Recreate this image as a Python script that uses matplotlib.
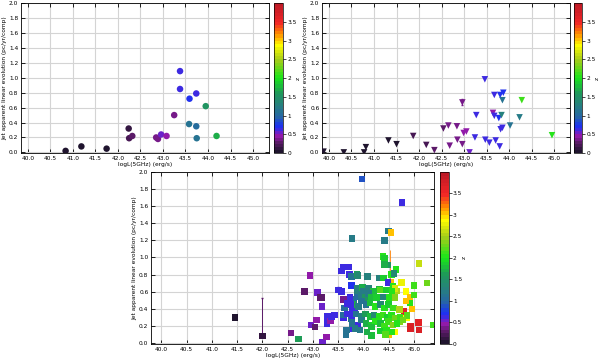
import numpy as np
import matplotlib
matplotlib.use('Agg')
import matplotlib.pyplot as plt
from matplotlib.colors import LinearSegmentedColormap, Normalize

# top-left panel (circles)
x1 = [40.84, 41.19, 41.75, 42.24, 42.25, 42.32, 42.85, 42.89, 42.96, 43.08,
      43.25, 43.38, 43.38, 43.59, 43.74, 43.58, 43.74, 43.75, 43.95, 44.19]
y1 = [0.02, 0.08, 0.05, 0.32, 0.19, 0.22, 0.20, 0.18, 0.24, 0.22,
      0.50, 1.09, 0.85, 0.72, 0.79, 0.38, 0.35, 0.19, 0.62, 0.22]
z1 = [0.05, 0.05, 0.05, 0.1, 0.2, 0.25, 0.4, 0.4, 0.55, 0.45,
      0.4, 0.65, 0.65, 0.7, 0.65, 1.1, 1.0, 1.1, 1.5, 1.7]

# top-right panel (triangles)
x2 = [39.88, 40.33, 40.78, 40.82, 41.32, 41.50, 41.87, 42.16, 42.34, 42.54,
      42.65, 42.68, 42.84, 42.85, 42.96, 42.96, 42.99, 43.05, 43.12, 43.24,
      43.27, 43.46, 43.47, 43.56, 43.64, 43.67, 43.67, 43.70, 43.77, 43.80,
      43.79, 43.81, 43.85, 43.87, 43.85, 43.83, 44.02, 44.23, 44.28, 44.95]
y2 = [0.01, 0.0, 0.0, 0.07, 0.16, 0.11, 0.22, 0.10, 0.03, 0.32,
      0.36, 0.09, 0.35, 0.17, 0.67, 0.11, 0.26, 0.28, 0.0, 0.20,
      0.50, 0.98, 0.17, 0.13, 0.53, 0.77, 0.49, 0.16, 0.46, 0.77,
      0.08, 0.31, 0.33, 0.80, 0.70, 0.50, 0.36, 0.47, 0.70, 0.23]
z2 = [0.05, 0.05, 0.05, 0.05, 0.05, 0.05, 0.2, 0.2, 0.3, 0.3,
      0.35, 0.35, 0.4, 0.4, 0.4, 0.4, 0.45, 0.45, 0.55, 0.6,
      0.6, 0.6, 0.6, 0.6, 0.45, 0.65, 0.65, 0.65, 0.7, 0.7,
      0.6, 0.65, 0.65, 0.7, 1.1, 1.3, 1.1, 1.2, 2.1, 2.0]

# bottom panel (squares)
x3 = [41.46, 42.00, 42.56, 42.71, 42.94, 42.83, 42.96, 43.04, 43.07, 43.09,
      43.15, 43.18, 43.18, 43.19, 43.27, 43.28, 43.29, 43.35, 43.37, 43.42,
      43.50, 43.56, 43.56, 43.60, 43.60, 43.60, 43.62, 43.65, 43.70, 43.68,
      43.72, 43.76, 43.76, 43.77, 43.76, 43.77, 43.81, 43.76, 43.77, 43.83,
      43.78, 43.87, 43.87, 43.88, 43.97, 44.76, 44.49, 44.54, 44.41, 44.38,
      44.41, 45.10, 44.48, 44.64, 44.55, 44.60, 44.30, 44.39, 45.25, 44.75,
      44.53, 44.48, 45.00, 44.58, 44.65, 44.84, 44.31, 44.08, 43.89, 44.92,
      44.92, 44.80, 44.96, 44.85, 45.09, 44.93, 44.93, 45.10, 45.37, 44.72,
      44.62, 44.48, 44.16, 44.41, 44.62, 43.98, 44.00, 44.10, 44.20, 44.33,
      44.45, 44.56, 43.73, 43.88, 43.96, 44.03, 44.10, 44.16, 44.26, 44.39,
      44.51, 44.62, 44.84, 45.00, 43.75, 43.90, 43.96, 44.05, 44.13, 44.23,
      44.33, 44.41, 44.49, 44.59, 44.71, 43.60, 43.67, 43.77, 43.85, 43.95,
      44.04, 44.13, 44.21, 44.30, 44.38, 44.46, 44.55, 44.62, 44.72, 44.86,
      43.77, 43.89, 43.96, 44.05, 44.15, 44.23, 44.33, 44.41, 44.49, 44.58,
      44.66, 44.78, 43.93, 44.16, 44.33, 44.45, 44.49, 44.56, 44.43, 44.07,
      43.83, 43.66]
y3 = [0.30, 0.08, 0.12, 0.05, 0.79, 0.60, 0.21, 0.19, 0.27, 0.59,
      0.53, 0.53, 0.43, 0.01, 0.07, 0.23, 0.31, 0.26, 0.31, 0.33,
      0.62, 0.60, 0.84, 0.89, 0.51, 0.29, 0.41, 0.10, 0.89, 0.46,
      0.80, 0.67, 0.78, 1.22, 0.51, 0.38, 0.51, 0.28, 0.17, 0.37,
      0.45, 0.80, 0.64, 0.59, 1.92, 1.64, 1.31, 1.29, 1.20, 1.01,
      0.99, 0.93, 0.91, 0.86, 0.80, 0.81, 0.76, 0.76, 0.70, 0.71,
      0.71, 0.71, 0.67, 0.66, 0.61, 0.60, 0.63, 0.78, 0.79, 0.54,
      0.47, 0.37, 0.40, 0.29, 0.24, 0.20, 0.17, 0.15, 0.21, 0.25,
      0.13, 0.11, 0.09, 0.92, 0.64, 0.65, 0.60, 0.64, 0.60, 0.62,
      0.62, 0.61, 0.53, 0.54, 0.56, 0.53, 0.58, 0.54, 0.53, 0.54,
      0.53, 0.53, 0.49, 0.56, 0.45, 0.43, 0.49, 0.45, 0.47, 0.43,
      0.45, 0.41, 0.45, 0.41, 0.39, 0.33, 0.34, 0.32, 0.34, 0.31,
      0.34, 0.31, 0.33, 0.31, 0.33, 0.30, 0.32, 0.29, 0.30, 0.32,
      0.23, 0.21, 0.27, 0.23, 0.21, 0.25, 0.23, 0.20, 0.25, 0.21,
      0.23, 0.27, 0.15, 0.19, 0.14, 0.15, 0.10, 0.13, 0.10, 0.13,
      0.17, 0.15]
z3 = [0.05, 0.15, 0.4, 1.6, 0.45, 0.25, 0.55, 0.3, 0.45, 0.55,
      0.25, 0.25, 0.55, 0.55, 0.45, 0.6, 0.6, 0.45, 0.6, 0.6,
      0.6, 0.6, 0.6, 0.6, 0.35, 0.65, 1.0, 1.1, 0.6, 0.65,
      0.6, 0.7, 1.1, 1.2, 0.6, 0.65, 1.0, 1.1, 0.6, 0.65,
      1.7, 1.6, 1.3, 1.3, 0.85, 0.6, 1.2, 3.0, 1.2, 2.0,
      1.9, 2.6, 1.5, 2.0, 2.0, 1.4, 1.3, 1.9, 2.3, 2.8,
      3.0, 0.6, 2.1, 2.0, 2.5, 2.9, 1.8, 1.3, 1.4, 3.0,
      2.0, 3.6, 3.0, 2.9, 3.6, 3.7, 3.7, 3.7, 2.1, 2.4,
      2.9, 3.0, 1.8, 1.7, 2.7, 1.7, 1.2, 1.3, 1.8, 2.2,
      1.9, 2.0, 0.6, 1.0, 1.2, 1.5, 1.2, 1.8, 1.9, 1.3,
      2.0, 2.4, 3.0, 2.1, 0.6, 1.2, 1.1, 1.1, 1.8, 2.0,
      1.4, 2.0, 1.9, 2.1, 2.5, 1.0, 0.6, 0.65, 1.1, 1.3,
      1.6, 1.8, 1.4, 2.0, 2.1, 1.9, 2.0, 2.3, 2.1, 2.2,
      1.1, 0.65, 1.2, 1.7, 1.9, 2.0, 1.8, 2.1, 2.1, 2.4,
      2.0, 2.3, 1.2, 1.8, 1.9, 2.0, 3.0, 2.0, 2.2, 1.7,
      1.2, 1.1]

xticks = [40.0, 40.5, 41.0, 41.5, 42.0, 42.5, 43.0, 43.5, 44.0, 44.5, 45.0]
yticks = [0.0, 0.2, 0.4, 0.6, 0.8, 1.0, 1.2, 1.4, 1.6, 1.8, 2.0]
zticks = [0, 0.5, 1, 1.5, 2, 2.5, 3, 3.5]

# IDL-like rainbow with black start, banded
stops = [(0.0, (0.12, 0.08, 0.18)), (0.25, (0.35, 0.10, 0.40)),
         (0.45, (0.60, 0.10, 0.70)), (0.55, (0.30, 0.15, 0.85)),
         (0.70, (0.10, 0.20, 0.95)), (0.95, (0.15, 0.40, 0.65)),
         (1.25, (0.15, 0.50, 0.50)), (1.60, (0.12, 0.60, 0.35)),
         (2.00, (0.10, 0.90, 0.10)), (2.50, (0.65, 0.80, 0.10)),
         (2.90, (1.00, 1.00, 0.00)), (3.20, (1.00, 0.55, 0.00)),
         (3.50, (0.95, 0.15, 0.15)), (4.00, (0.75, 0.10, 0.15))]
cmap = LinearSegmentedColormap.from_list('idl', [(p / 4.0, c) for p, c in stops], N=48)
norm = Normalize(0, 4)

fs = 4.2
fig = plt.figure(figsize=(6, 3.62), dpi=100)


def panel(rect, crect, x, y, z, marker, xlim):
    ax = fig.add_axes(rect)
    sc = ax.scatter(x, y, c=z, cmap=cmap, norm=norm, marker=marker, s=22,
                    linewidths=0, zorder=3)
    ax.set_xlim(*xlim)
    ax.set_ylim(-0.01, 2.0)
    ax.set_xticks(xticks)
    ax.set_xticklabels(['%.1f' % t for t in xticks])
    ax.set_yticks(yticks)
    ax.set_yticklabels(['%.1f' % t for t in yticks])
    ax.grid(True, color='#d4d4d4', lw=0.8, zorder=0)
    ax.tick_params(direction='in', top=True, right=True, labelsize=fs,
                   length=3, width=0.6, pad=2)
    ax.set_xlabel('logL(5GHz) (erg/s)', fontsize=fs, labelpad=1)
    ax.set_ylabel('Jet apparent linear evolution (pc/yr/comp)', fontsize=fs, labelpad=1.5)
    for s in ax.spines.values():
        s.set_linewidth(0.6)
    cax = fig.add_axes(crect)
    cb = fig.colorbar(sc, cax=cax, ticks=zticks)
    cb.ax.set_yticklabels(['%g' % t for t in zticks])
    cb.ax.tick_params(labelsize=fs, length=2, width=0.5, pad=1)
    cb.set_label('z', fontsize=fs, rotation=90, labelpad=-0.5)
    cb.outline.set_linewidth(0.5)
    return ax


ax1 = panel([0.035, 0.577, 0.413, 0.414], [0.457, 0.577, 0.015, 0.414],
            x1, y1, z1, 'o', (39.85, 45.35))
ax2 = panel([0.537, 0.577, 0.413, 0.414], [0.957, 0.577, 0.013, 0.414],
            x2, y2, z2, 'v', (39.85, 45.35))
ax2.errorbar([42.96], [0.67], yerr=[[0.03], [0.05]], fmt='none',
             ecolor=cmap(norm(0.4)), elinewidth=0.6, capsize=1, zorder=2)
ax3 = panel([0.252, 0.050, 0.472, 0.475], [0.733, 0.050, 0.015, 0.475],
            x3, y3, z3, 's', (39.8, 45.4))
ax3.errorbar([42.00], [0.08], yerr=[[0.0], [0.45]], fmt='none',
             ecolor=cmap(norm(0.25)), elinewidth=0.7, capsize=1, zorder=2)
ax3.errorbar([44.53], [0.71], yerr=[[0.0], [0.38]], fmt='none',
             ecolor=cmap(norm(3.2)), elinewidth=0.6, ls='--', zorder=2)
ax3.errorbar([43.50], [0.62], yerr=[[0.0], [0.03]], fmt='none',
             ecolor=cmap(norm(0.6)), elinewidth=0.6, capsize=1, zorder=2)

fig.savefig('out.png', dpi=100)
